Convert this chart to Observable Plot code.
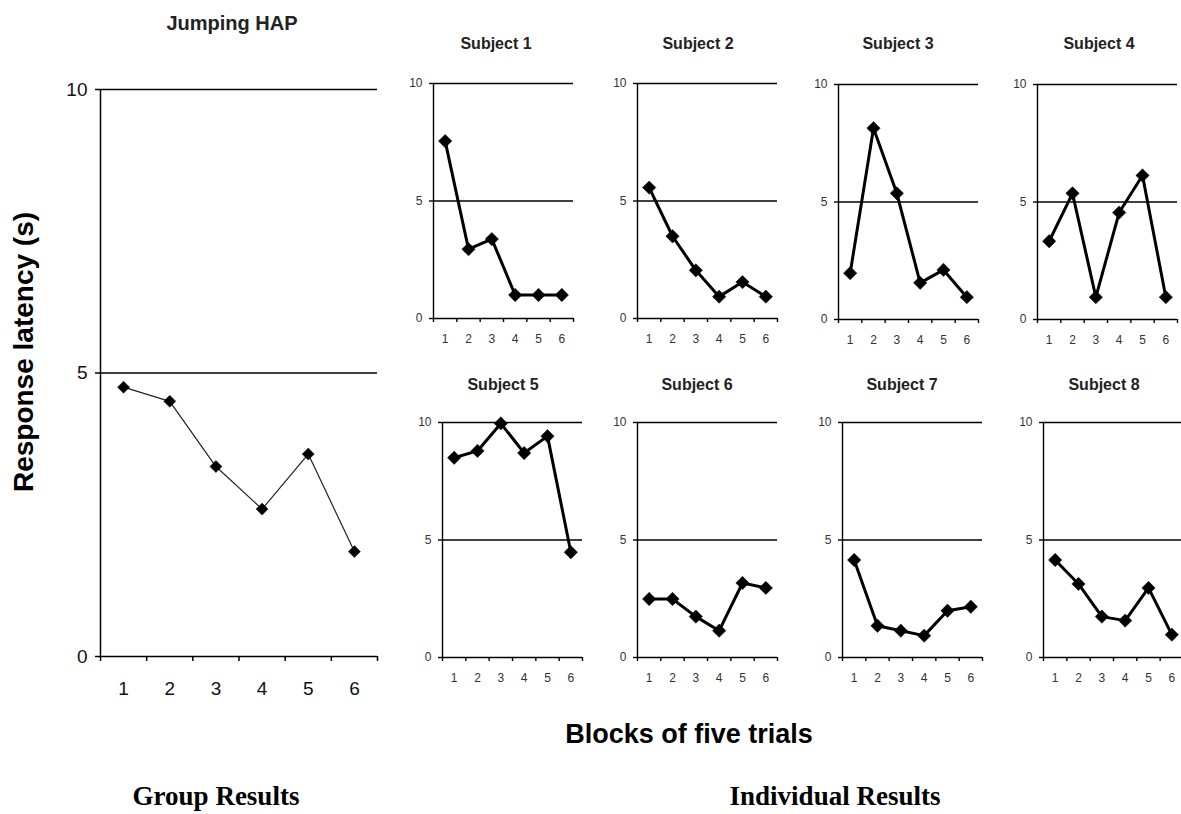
<!DOCTYPE html>
<html><head><meta charset="utf-8">
<script src="https://cdn.jsdelivr.net/npm/d3@7"></script>
<script src="https://cdn.jsdelivr.net/npm/@observablehq/plot@0.6"></script>
<style>
html,body{margin:0;padding:0;background:#fff;overflow:hidden}
#root{position:relative;width:1181px;height:814px;overflow:hidden;font-family:"Liberation Sans",Arial,sans-serif;color:#000}
.lbl{position:absolute;white-space:nowrap;line-height:1.15;transform:translate(-50%,-50%)}
</style></head><body><div id="root"></div>
<script>
// ---- data ----
const blocks = [1, 2, 3, 4, 5, 6];
const blockEdges = [0.5, 1.5, 2.5, 3.5, 4.5, 5.5, 6.5];
const yTicks = [0, 5, 10];
const gridLines = [5, 10];
const groupTitle = "Jumping HAP";
const groupLatency = [4.75, 4.5, 3.35, 2.6, 3.57, 1.85];
const subjectNames = ["Subject 1", "Subject 2", "Subject 3", "Subject 4", "Subject 5", "Subject 6", "Subject 7", "Subject 8"];
const subject1 = [7.55, 2.95, 3.38, 1.0, 1.0, 1.0];
const subject2 = [5.57, 3.5, 2.05, 0.93, 1.55, 0.93];
const subject3 = [1.97, 8.14, 5.37, 1.56, 2.11, 0.95];
const subject4 = [3.33, 5.37, 0.95, 4.55, 6.13, 0.95];
const subject5 = [8.5, 8.79, 9.96, 8.7, 9.42, 4.48];
const subject6 = [2.49, 2.49, 1.74, 1.14, 3.17, 2.96];
const subject7 = [4.15, 1.35, 1.14, 0.93, 1.99, 2.16];
const subject8 = [4.15, 3.13, 1.74, 1.57, 2.96, 0.97];
const subjectSeries = [subject1, subject2, subject3, subject4, subject5, subject6, subject7, subject8];
const yLabel = "Response latency (s)";
const xLabel = "Blocks of five trials";
const groupCaption = "Group Results";
const individualCaption = "Individual Results";

const root = document.getElementById("root");

function panel(values, o) {
  const data = blocks.map((b, i) => ({block: b, latency: values[i]}));
  const svg = Plot.plot({
    width: o.ml + o.w + o.mr,
    height: o.mt + o.h + o.mb,
    marginLeft: o.ml, marginRight: o.mr, marginTop: o.mt, marginBottom: o.mb,
    x: {domain: [0.5, 6.5]},
    y: {domain: [0, 10]},
    style: {fontSize: o.fs + "px", fontFamily: '"Liberation Sans", Arial, sans-serif', background: "transparent", overflow: "visible", color: o.tickColor},
    marks: [
      Plot.ruleY(gridLines, {x1: 0.5, x2: 6.5, stroke: "#000", strokeWidth: o.gridW}),
      Plot.axisY({ticks: yTicks, tickFormat: d => String(d), tickSize: o.tickLen, tickPadding: o.padY, label: null, stroke: "#000", strokeWidth: o.gridW}),
      Plot.axisX({ticks: blockEdges, tickFormat: () => "", tickSize: o.tickLen, label: null, stroke: "#000", strokeWidth: o.gridW}),
      Plot.axisX({ticks: blocks, tickFormat: d => String(d), tickSize: 0, tickPadding: o.padX, label: null}),
      Plot.ruleX([0.5], {stroke: "#000", strokeWidth: o.gridW}),
      Plot.ruleY([0], {x1: 0.5, x2: 6.5, stroke: "#000", strokeWidth: o.gridW}),
      Plot.line(data, {x: "block", y: "latency", stroke: o.lineColor, strokeWidth: o.lineW}),
      Plot.dot(data, {x: "block", y: "latency", symbol: "diamond2", r: o.r, fill: "#000", stroke: "#000", strokeWidth: 0.5})
    ]
  });
  svg.style.position = "absolute";
  svg.style.left = o.left + "px";
  svg.style.top = o.top + "px";
  root.appendChild(svg);
}

// group panel
panel(groupLatency, {left: 0, top: 60, ml: 100, mr: 23, mt: 29, mb: 64, w: 277, h: 567,
  fs: 19, tickLen: 5, padY: 8, padX: 25, gridW: 1.5, lineW: 1.2, lineColor: "#222", r: 5.4, tickColor: "#111"});

// subject panels: axis left x, y of the 10 line
const subjAxes = [[433, 83], [637, 83], [838, 84], [1037, 84], [442, 422], [637, 422], [842, 422], [1043, 422]];
subjectSeries.forEach((vals, i) => {
  const [ax, ay] = subjAxes[i];
  panel(vals, {left: ax - 40, top: ay - 30, ml: 40, mr: 10, mt: 30, mb: 30, w: 140, h: 235,
    fs: 12, tickLen: 4, padY: 7, padX: 16, gridW: 1.4, lineW: 3, lineColor: "#000", r: 6, tickColor: "#333"});
});

function label(text, x, y, css) {
  const d = document.createElement("div");
  d.className = "lbl";
  d.textContent = text;
  d.style.left = x + "px";
  d.style.top = y + "px";
  Object.assign(d.style, css);
  root.appendChild(d);
  return d;
}

const sans = '"Liberation Sans", Arial, sans-serif';
const serif = '"Liberation Serif", "Times New Roman", serif';
label(groupTitle, 232, 23, {fontSize: "20px", fontWeight: "bold", fontFamily: sans, color: "#222"});
const titlePos = [[496, 44], [698, 44], [898, 44], [1099, 44], [503, 385], [697, 385], [902, 385], [1104, 385]];
subjectNames.forEach((n, i) => label(n, titlePos[i][0], titlePos[i][1], {fontSize: "16px", fontWeight: "bold", fontFamily: sans, color: "#222"}));
const yl = label(yLabel, 24, 352, {fontSize: "28px", fontWeight: "bold", fontFamily: sans});
yl.style.transform = "translate(-50%,-50%) rotate(-90deg)";
label(xLabel, 689, 735, {fontSize: "27px", fontWeight: "bold", fontFamily: sans});
label(groupCaption, 216, 797, {fontSize: "27px", fontWeight: "bold", fontFamily: serif});
label(individualCaption, 835, 797, {fontSize: "27px", fontWeight: "bold", fontFamily: serif});
</script>
</body></html>
